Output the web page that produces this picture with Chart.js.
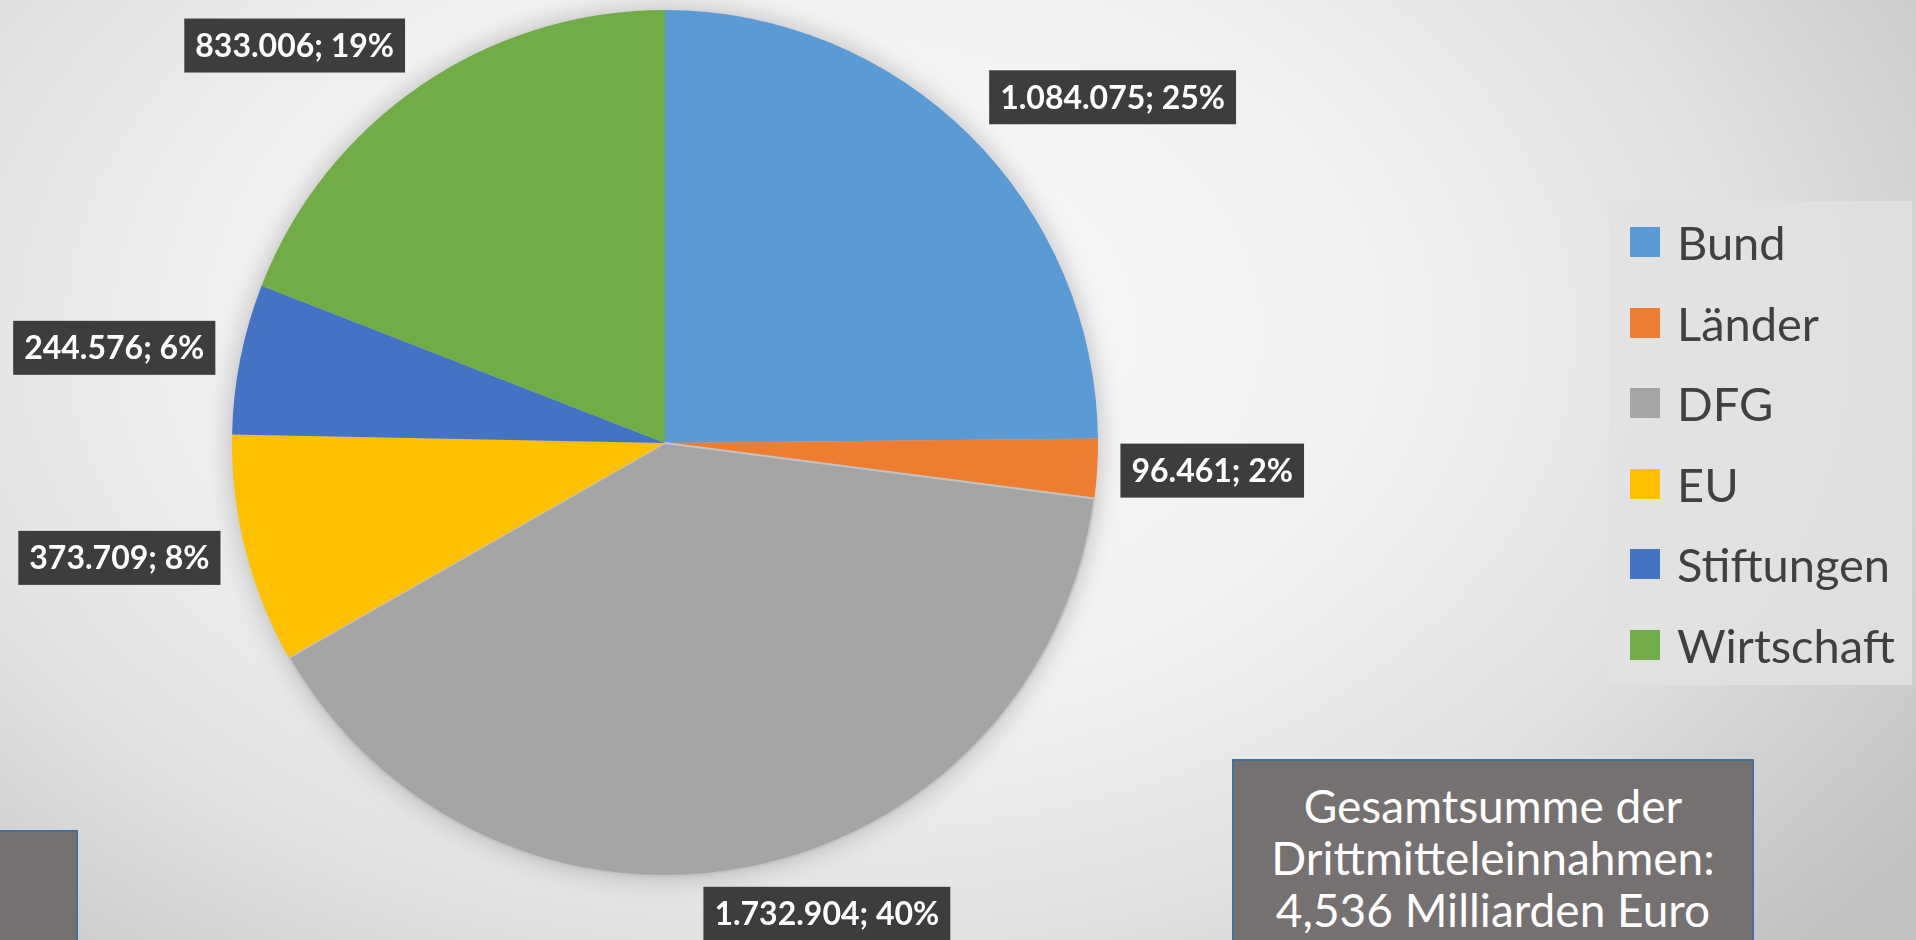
<!DOCTYPE html>
<html lang="de">
<head>
  <meta charset="UTF-8">
  <title>Drittmitteleinnahmen</title>
  <script src="https://cdn.jsdelivr.net/npm/chart.js"></script>
  <style>
    html, body {
      margin: 0;
      padding: 0;
      width: 1916px;
      height: 940px;
      overflow: hidden;
    }
    body {
      position: relative;
      font-family: Lato, "Open Sans", sans-serif;
      background: radial-gradient(ellipse 1350px 900px at 820px 330px, #fafafa 0%, #f1f1f1 42%, #e2e2e2 68%, #d0d0d0 85%, #c2c2c2 100%);
    }
    #pie {
      position: absolute;
      left: 0;
      top: 0;
    }
    #legend {
      position: absolute;
      left: 1609px;
      top: 201px;
      width: 303px;
      height: 484px;
      background: rgba(226, 226, 226, 0.85);
    }
    .item {
      position: absolute;
      left: 21px;
      height: 40px;
      display: flex;
      align-items: center;
      font-size: 47px;
      color: #404040;
      white-space: nowrap;
    }
    .item span.box {
      display: inline-block;
      width: 30px;
      height: 30px;
      margin-right: 17px;
    }
    .note {
      position: absolute;
      background: #767171;
      border: 2px solid #41719c;
      box-sizing: border-box;
    }
    #total {
      left: 1232px;
      top: 759px;
      width: 522px;
      height: 220px;
      color: #fff;
      text-align: center;
      font-size: 46px;
      line-height: 52px;
      padding-top: 19px;
    }
    #corner {
      left: -4px;
      top: 830px;
      width: 82px;
      height: 150px;
    }
  </style>
</head>
<body>
  <canvas id="pie" width="1916" height="940"></canvas>
  <div id="legend"></div>
  <div id="total" class="note">Gesamtsumme der<br>Drittmitteleinnahmen:<br>4,536 Milliarden Euro</div>
  <div id="corner" class="note"></div>

  <script>
    const labels = ['Bund', 'Länder', 'DFG', 'EU', 'Stiftungen', 'Wirtschaft'];
    const values = [1084075, 96461, 1732904, 373709, 244576, 833006];
    const percents = [25, 2, 40, 8, 6, 19];
    const colors = ['#5b9bd5', '#ed7d31', '#a5a5a5', '#ffc000', '#4472c4', '#70ad47'];

    // wo die Beschriftung relativ zum Rand des Segments sitzt
    const labelShift = [[143, -38], [115, 2], [78, 46], [-126, 8], [-126, -11], [-126, -40]];

    function fmt(n) {
      return String(n).replace(/\B(?=(\d{3})+(?!\d))/g, '.');
    }

    // Legende
    const legend = document.getElementById('legend');
    labels.forEach((l, i) => {
      const d = document.createElement('div');
      d.className = 'item';
      d.style.top = (21 + i * 80.6) + 'px';
      d.innerHTML = '<span class="box" style="background:' + colors[i] + '"></span>' + l;
      legend.appendChild(d);
    });

    const pieShadow = {
      id: 'pieShadow',
      beforeDatasetsDraw(chart) {
        const arc = chart.getDatasetMeta(0).data[0];
        const ctx = chart.ctx;
        ctx.save();
        ctx.shadowColor = 'rgba(0,0,0,0.28)';
        ctx.shadowBlur = 28;
        ctx.fillStyle = '#bbb';
        ctx.beginPath();
        ctx.arc(arc.x, arc.y, arc.outerRadius - 2, 0, Math.PI * 2);
        ctx.fill();
        ctx.restore();
      }
    };

    const dataLabels = {
      id: 'dataLabels',
      afterDatasetsDraw(chart) {
        const ctx = chart.ctx;
        ctx.save();
        ctx.font = 'bold 32px Lato';
        ctx.textAlign = 'center';
        ctx.textBaseline = 'middle';
        chart.getDatasetMeta(0).data.forEach((arc, i) => {
          const mid = (arc.startAngle + arc.endAngle) / 2;
          const x = arc.x + Math.cos(mid) * arc.outerRadius + labelShift[i][0];
          const y = arc.y + Math.sin(mid) * arc.outerRadius + labelShift[i][1];
          const text = fmt(values[i]) + '; ' + percents[i] + '%';
          const w = ctx.measureText(text).width + 22;
          const h = 54;
          ctx.fillStyle = '#3d3d3d';
          ctx.fillRect(x - w / 2, y - h / 2, w, h);
          ctx.fillStyle = '#ffffff';
          ctx.fillText(text, x, y + 1);
        });
        ctx.restore();
      }
    };

    document.fonts.load('bold 32px Lato').then(() => {
      new Chart(document.getElementById('pie'), {
        type: 'pie',
        data: {
          labels: labels,
          datasets: [{
            data: values,
            backgroundColor: colors,
            borderColor: ['#5b9bd5', '#ed7d31', '#c4c4c4', '#ffc000', '#4472c4', '#70ad47'],
            borderWidth: [0, 0, 2, 0, 0, 0]
          }]
        },
        options: {
          responsive: false,
          animation: false,
          layout: {
            padding: { left: 231, right: 817, top: 9, bottom: 63 }
          },
          plugins: {
            legend: { display: false },
            tooltip: { enabled: false }
          }
        },
        plugins: [pieShadow, dataLabels]
      });
    });
  </script>
</body>
</html>
